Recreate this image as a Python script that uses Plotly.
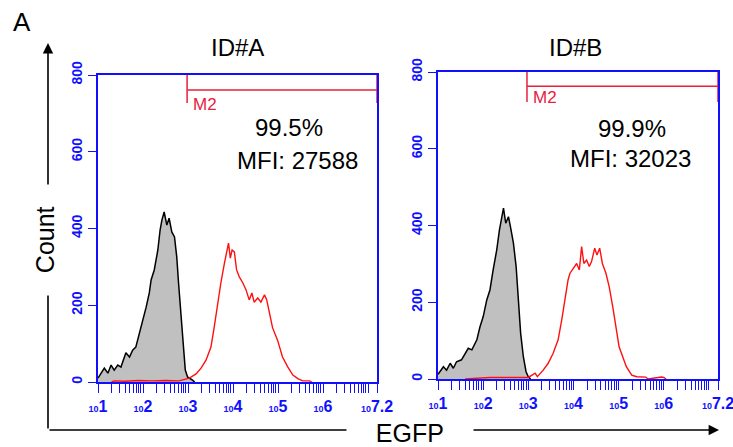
import plotly.graph_objects as go

# ---------------- data (log10 of EGFP intensity, counts) ----------------
a_gray_log = [1.0, 1.04, 1.14, 1.22, 1.29, 1.36, 1.44, 1.51, 1.62, 1.70, 1.77, 1.84, 1.92, 1.99, 2.07,
              2.14, 2.18, 2.25, 2.33, 2.38, 2.42, 2.47, 2.53, 2.58, 2.64, 2.70, 2.75, 2.79, 2.84,
              2.90, 2.94, 2.99, 3.10, 3.15]
a_gray_count = [10, 18, 36, 23, 44, 31, 44, 39, 76, 65, 83, 91, 128, 154, 195,
                232, 266, 292, 344, 396, 422, 443, 409, 427, 391, 378, 326, 258, 169,
                91, 31, 13, 5, 0]

a_red_log = [1.30, 1.36, 1.60, 1.90, 2.20, 2.50, 2.80, 3.03, 3.18, 3.29, 3.40, 3.51, 3.58, 3.66,
             3.73, 3.81, 3.86, 3.90, 3.94, 3.98, 4.03, 4.08, 4.14, 4.22, 4.29, 4.36, 4.42,
             4.47, 4.55, 4.62, 4.70, 4.75, 4.81, 4.88, 4.99, 5.10, 5.22, 5.33, 5.45, 5.55,
             5.70, 5.75]
a_red_count = [0, 3, 2, 4, 3, 4, 3, 10, 21, 36, 57, 91, 141, 206,
               258, 310, 344, 362, 323, 344, 339, 292, 274, 258, 240, 214, 232,
               208, 219, 208, 227, 214, 180, 141, 109, 65, 39, 18, 8, 3,
               3, 0]

b_gray_log = [1.0, 1.04, 1.12, 1.19, 1.27, 1.34, 1.41, 1.52, 1.60, 1.67, 1.75, 1.86, 1.93, 2.00,
              2.08, 2.15, 2.22, 2.30, 2.36, 2.41, 2.45, 2.50, 2.56, 2.61, 2.67, 2.73, 2.78,
              2.83, 2.89, 2.95, 3.00, 3.05]
b_gray_count = [12, 19, 32, 23, 41, 28, 45, 50, 67, 80, 76, 102, 136, 162,
                206, 232, 284, 336, 388, 423, 445, 406, 423, 393, 354, 293, 206,
                119, 58, 19, 6, 0]

b_red_log = [1.60, 2.05, 2.15, 2.56, 2.67, 2.90, 3.00, 3.15, 3.20, 3.33, 3.44, 3.55, 3.66, 3.74,
             3.81, 3.88, 3.92, 3.99, 4.07, 4.13, 4.18, 4.23, 4.29, 4.35, 4.40, 4.47, 4.52,
             4.58, 4.64, 4.72, 4.79, 4.87, 4.94, 5.01, 5.09, 5.17, 5.29, 5.40, 5.60, 5.65,
             5.95, 6.00, 6.05]
b_red_count = [0, 4, 4, 4, 4, 4, 4, 15, 6, 23, 41, 67, 102, 154,
               206, 258, 275, 288, 301, 284, 345, 301, 310, 293, 306, 341, 323,
               341, 301, 275, 241, 188, 136, 84, 58, 32, 10, 6, 5, 0,
               5, 4, 0]

panel_titles = ["ID#A", "ID#B"]
positive_pct = ["99.5%", "99.9%"]
mfi_text = ["MFI: 27588", "MFI: 32023"]
gate_name = "M2"
gate_log = [[2.98, 7.2], [2.97, 7.2]]       # M2 gate limits (log10)
gate_level = [761, 763]                      # count level of the gate bar
gate_drop = [727, 722]                       # lower end of the gate end-bars
x_major_exp = [1, 2, 3, 4, 5, 6, 7]
x_end_exp = 7.2
y_ticks = [0, 200, 400, 600, 800]

# ---------------- figure ----------------
BLUE = "#1010ff"
FONT = "Arial, Liberation Sans, sans-serif"
fig = go.Figure()

panels = [
    (a_gray_log, a_gray_count, a_red_log, a_red_count, "x", "y"),
    (b_gray_log, b_gray_count, b_red_log, b_red_count, "x2", "y2"),
]
for i, (gl, gc, rl, rc, xa, ya) in enumerate(panels):
    fig.add_trace(go.Scatter(x=[10 ** v for v in gl], y=gc, mode="lines", fill="tozeroy",
                             fillcolor="#c0c0c0", line=dict(color="black", width=1.5),
                             xaxis=xa, yaxis=ya, showlegend=False, hoverinfo="skip"))
    fig.add_trace(go.Scatter(x=[10 ** v for v in rl], y=rc, mode="lines",
                             line=dict(color="#ff1010", width=1.4),
                             xaxis=xa, yaxis=ya, showlegend=False, hoverinfo="skip"))
    g0, g1 = 10 ** gate_log[i][0], 10 ** gate_log[i][1]
    top = y_ticks[-1]
    fig.add_trace(go.Scatter(
        x=[g0, g0, None, g0, g1, None, g1, g1],
        y=[top, gate_drop[i], None, gate_level[i], gate_level[i], None, top, gate_drop[i]],
        mode="lines", line=dict(color="#e8203c", width=1.5),
        xaxis=xa, yaxis=ya, showlegend=False, hoverinfo="skip"))

# x ticks: majors + log minors
xtickvals, xticktext = [], []
for e in x_major_exp:
    xtickvals.append(10 ** e)
    xticktext.append("<span style='font-size:9px'>10</span>%d" % e if e != 7 else "")
    if e < 7:
        for m in range(2, 10):
            xtickvals.append(m * 10 ** e)
            xticktext.append("")
xtickvals.append(10 ** x_end_exp)
xticktext.append("<span style='font-size:9px'>10</span>%s" % x_end_exp)

xcommon = dict(type="log", range=[1, x_end_exp + 1e-6], showgrid=False, zeroline=False,
               showline=True, linecolor=BLUE, linewidth=2, mirror=True, automargin=False,
               ticks="outside", ticklen=9, tickwidth=1.3, tickcolor=BLUE,
               tickmode="array", tickvals=xtickvals, ticktext=xticktext,
               ticklabeloverflow="allow",
               tickfont=dict(family=FONT, size=16, color=BLUE, weight="bold"), tickangle=0)
ycommon = dict(range=[0, 800], showgrid=False, zeroline=False,
               showline=True, linecolor=BLUE, linewidth=2, mirror=True, automargin=False,
               ticks="outside", ticklen=8, tickwidth=1.3, tickcolor=BLUE,
               tickmode="array", tickvals=y_ticks, ticktext=[str(v) for v in y_ticks],
               ticklabeloverflow="allow",
               tickfont=dict(family=FONT, size=14, color=BLUE, weight="bold"), tickangle=-90)

W, H = 733, 447
fig.update_layout(
    width=W, height=H, autosize=False,
    margin=dict(l=0, r=0, t=0, b=0),
    paper_bgcolor="white", plot_bgcolor="white",
    xaxis=dict(domain=[98 / W, 377 / W], anchor="y", **xcommon),
    yaxis=dict(domain=[1 - 382 / H, 1 - 75 / H], anchor="x", **ycommon),
    xaxis2=dict(domain=[438 / W, 718 / W], anchor="y2", **xcommon),
    yaxis2=dict(domain=[1 - 379 / H, 1 - 72 / H], anchor="x2", **ycommon),
)

C = dict(xanchor="center", yanchor="middle")
ann = []
# big axis arrows (drawn first so labels with white background cover them)
ann.append(dict(xref="paper", yref="paper", x=48 / W, y=1 - 43 / H, ax=0, ay=387,
                axref="pixel", ayref="pixel", text="", showarrow=True,
                arrowhead=2, arrowsize=1.3, arrowwidth=1.6, arrowcolor="black"))
ann.append(dict(xref="paper", yref="paper", x=719 / W, y=1 - 430 / H, ax=-671, ay=0,
                axref="pixel", ayref="pixel", text="", showarrow=True,
                arrowhead=2, arrowsize=1.3, arrowwidth=1.6, arrowcolor="black"))
ann.append(dict(xref="paper", yref="paper", x=45 / W, y=1 - 240 / H,
                text="\u00a0\u00a0\u00a0Count\u00a0\u00a0\u00a0",
                textangle=-90, showarrow=False, bgcolor="white",
                font=dict(family=FONT, size=25, color="black"), **C))
ann.append(dict(xref="paper", yref="paper", x=410 / W, y=1 - 433 / H,
                text="\u00a0\u00a0\u00a0\u00a0EGFP\u00a0\u00a0\u00a0\u00a0", showarrow=False,
                bgcolor="white", font=dict(family=FONT, size=25, color="black"), **C))
ann.append(dict(xref="paper", yref="paper", x=22 / W, y=1 - 22 / H, text="A", showarrow=False,
                font=dict(family=FONT, size=26, color="black"), **C))

title_x = [237 / W, 575 / W]
pct_pos = [(5.24, 662), (5.29, 654)]
mfi_pos = [(5.44, 578), (5.27, 575)]
m2_pos = [(3.37, 722), (3.36, 733)]
for i, (xa, ya) in enumerate([("x", "y"), ("x2", "y2")]):
    ann.append(dict(xref="paper", yref="paper", x=title_x[i], y=1 - 47 / H, text=panel_titles[i],
                    showarrow=False, font=dict(family=FONT, size=24, color="black"), **C))
    ann.append(dict(xref=xa, yref=ya, x=pct_pos[i][0], y=pct_pos[i][1], text=positive_pct[i],
                    showarrow=False, font=dict(family=FONT, size=24, color="black"), **C))
    ann.append(dict(xref=xa, yref=ya, x=mfi_pos[i][0], y=mfi_pos[i][1], text=mfi_text[i],
                    showarrow=False, font=dict(family=FONT, size=24, color="black"), **C))
    ann.append(dict(xref=xa, yref=ya, x=m2_pos[i][0], y=m2_pos[i][1], text=gate_name,
                    showarrow=False, font=dict(family=FONT, size=17, color="#e8203c"), **C))
fig.update_layout(annotations=ann)

fig.write_html("out.html")
